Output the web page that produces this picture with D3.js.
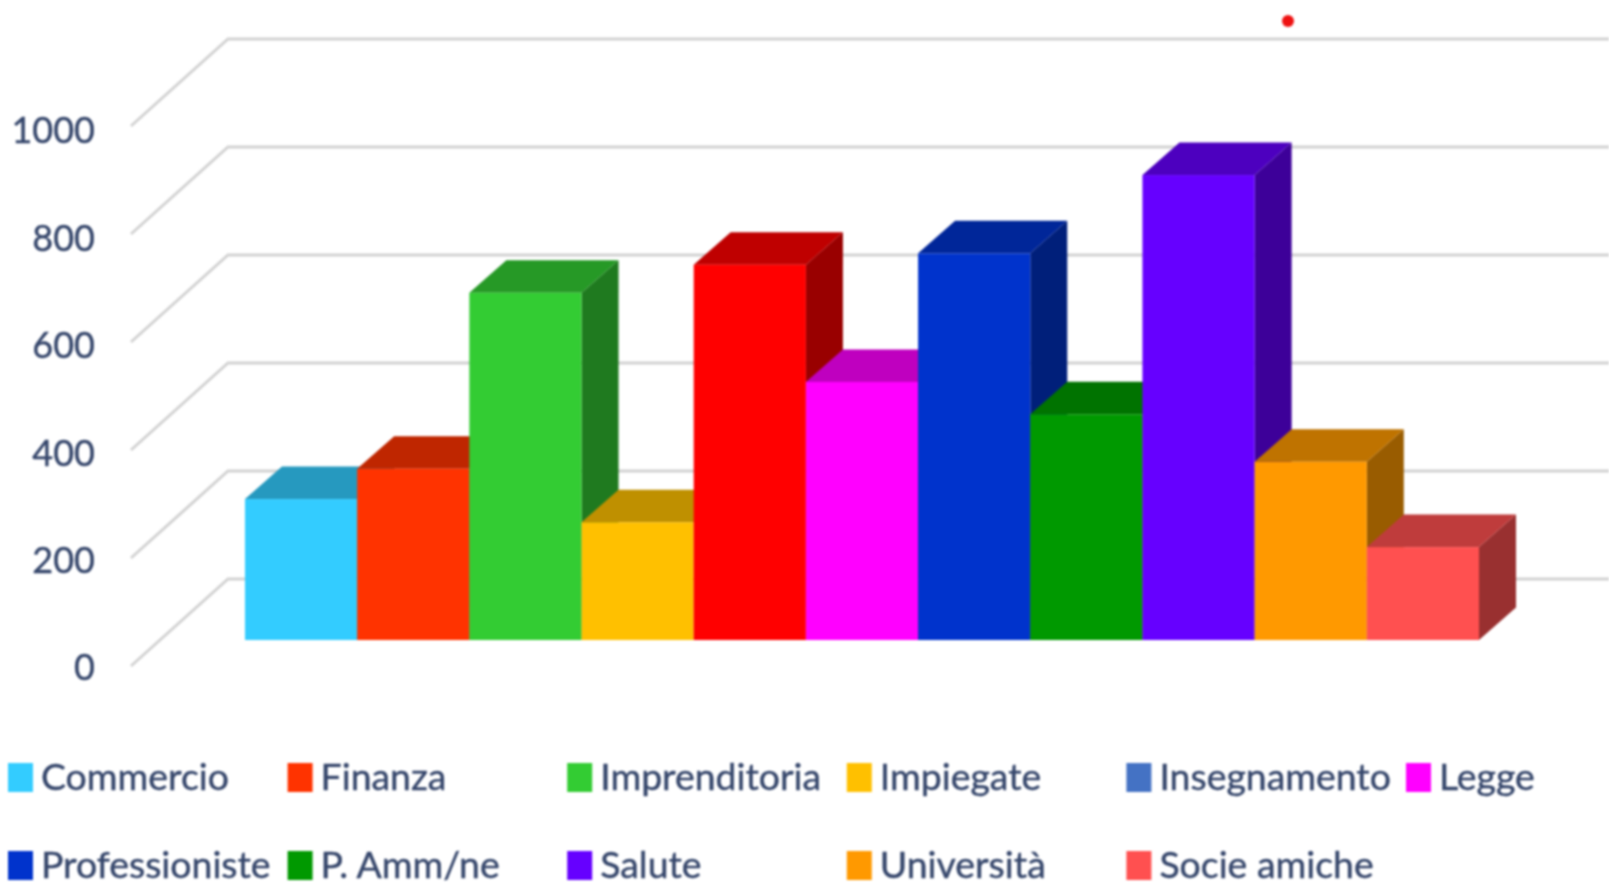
<!DOCTYPE html>
<html>
<head>
<meta charset="utf-8">
<script src="https://cdn.jsdelivr.net/npm/d3@7"></script>
<style>
  html, body { margin: 0; padding: 0; background: #fff; overflow: hidden; }
  svg { display: block; filter: blur(0.9px); }
  text { font-family: Lato, "Open Sans", sans-serif; fill: #35466b; stroke: #35466b; stroke-width: 0.4px; }
</style>
</head>
<body>
<script>
const categories = ["Commercio", "Finanza", "Imprenditoria", "Impiegate", "Insegnamento", "Legge",
  "Professioniste", "P. Amm/ne", "Salute", "Università", "Socie amiche"];
const values = [261, 317, 643, 218, 695, 478, 716, 418, 861, 330, 172];
// the 5th bar is pure red in the picture, its legend swatch is blue
const barColors = ["#33ccff", "#ff3300", "#33cc33", "#ffc000", "#ff0000", "#ff00ff",
  "#0033cc", "#009900", "#6600ff", "#ff9900", "#ff5050"];
const legendColors = ["#33ccff", "#ff3300", "#33cc33", "#ffc000", "#4472c4", "#ff00ff",
  "#0033cc", "#009900", "#6600ff", "#ff9900", "#ff5050"];
const yTicks = [0, 200, 400, 600, 800, 1000];

const width = 1609, height = 885;

const svg = d3.select("body").append("svg")
  .attr("width", width)
  .attr("height", height);

// front edge of the floor/walls
const y = d3.scaleLinear().domain([0, 1000]).range([666, 126]);
const labelY = d3.scaleLinear().domain([0, 1000]).range([667, 130]);
const x = d3.scaleBand().domain(categories).range([245, 1479]);

// depth of the walls and of the bars
const wallDx = 97, wallDy = -87, wallLeft = 131;
const barBaseShift = -26, barDx = 37, barDy = -32.5;

function shade(color, k) {
  const c = d3.rgb(color);
  return d3.rgb(c.r * k, c.g * k, c.b * k).formatHex();
}

// gridlines
svg.append("g").selectAll("path")
  .data(yTicks)
  .join("path")
  .attr("fill", "none")
  .attr("stroke", "#d2d2d2")
  .attr("stroke-width", 3)
  .attr("d", d => `M${wallLeft},${y(d)}L${wallLeft + wallDx},${y(d) + wallDy}L${width},${y(d) + wallDy}`);

// y axis labels
const axis = svg.append("g")
  .attr("transform", "translate(95,0)")
  .call(d3.axisLeft(labelY).tickValues(yTicks).tickSize(0).tickPadding(0).tickFormat(d3.format("d")));
axis.select(".domain").remove();
axis.selectAll("text")
  .style("font-size", "36px")
  .style("fill", null)
  .attr("dy", "0.36em");

// bars, left to right so each one covers the side of the previous
const bars = svg.append("g").selectAll("g")
  .data(categories.map((c, i) => ({ c, v: values[i], color: barColors[i] })))
  .join("g");

const barTop = d => y(d.v) + barBaseShift;
const barBase = y(0) + barBaseShift;

bars.append("path")
  .attr("fill", d => shade(d.color, 0.6))
  .attr("d", d => {
    const r = x(d.c) + x.bandwidth();
    return `M${r},${barTop(d)}L${r + barDx},${barTop(d) + barDy}L${r + barDx},${barBase + barDy}L${r},${barBase}Z`;
  });

bars.append("path")
  .attr("fill", d => shade(d.color, 0.75))
  .attr("d", d => {
    const l = x(d.c), r = l + x.bandwidth();
    return `M${l},${barTop(d)}L${l + barDx},${barTop(d) + barDy}L${r + barDx},${barTop(d) + barDy}L${r},${barTop(d)}Z`;
  });

bars.append("rect")
  .attr("x", d => x(d.c))
  .attr("y", d => barTop(d))
  .attr("width", x.bandwidth())
  .attr("height", d => barBase - barTop(d))
  .attr("fill", d => d.color);

// stray red dot above the chart
svg.append("circle")
  .attr("cx", 1288)
  .attr("cy", 21)
  .attr("r", 6)
  .attr("fill", "#ee1111");

// legend
const legendCols = 6;
const legendX = d3.scaleLinear().domain([0, legendCols - 1]).range([8, 1406]);
const legendRowY = d3.scaleLinear().domain([0, 1]).range([763, 851]);

const legend = svg.append("g").selectAll("g")
  .data(categories)
  .join("g")
  .attr("transform", (d, i) => `translate(${legendX(i % legendCols)},${legendRowY(Math.floor(i / legendCols))})`);

legend.append("rect")
  .attr("width", 25)
  .attr("height", 29)
  .attr("fill", (d, i) => legendColors[i]);

legend.append("text")
  .attr("x", 33)
  .attr("y", 27)
  .style("font-size", "37.4px")
  .text(d => d);
</script>
</body>
</html>
